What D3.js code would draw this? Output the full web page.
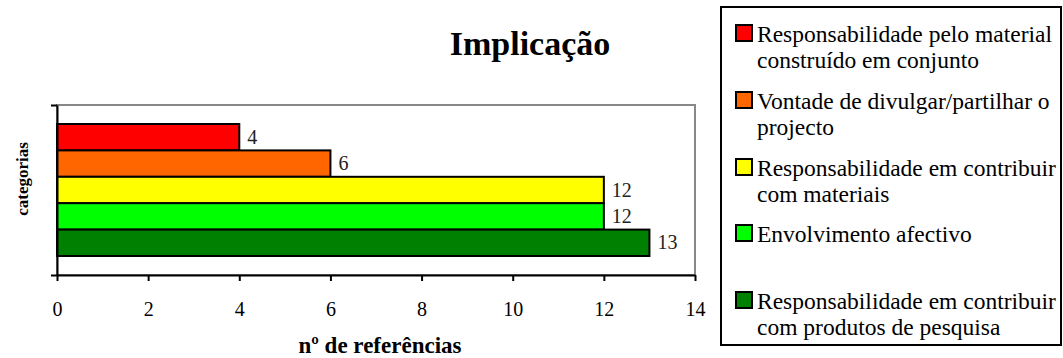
<!DOCTYPE html>
<html>
<head>
<meta charset="utf-8">
<script src="https://cdn.jsdelivr.net/npm/d3@7"></script>
<style>
  body { margin: 0; background: #fff; }
  text { font-family: "Liberation Serif", "Times New Roman", serif; }
</style>
</head>
<body>
<script>
// data
var categories = [
  "Responsabilidade pelo material construído em conjunto",
  "Vontade de divulgar/partilhar o projecto",
  "Responsabilidade em contribuir com materiais",
  "Envolvimento afectivo",
  "Responsabilidade em contribuir com produtos de pesquisa"
];
var values = [4, 6, 12, 12, 13];
var colors = ["#ff0000", "#ff6600", "#ffff00", "#00ff00", "#008000"];
// legend lines (wrapped as in the picture)
var legendLines = [
  ["Responsabilidade pelo material", "construído em conjunto"],
  ["Vontade de divulgar/partilhar o", "projecto"],
  ["Responsabilidade em contribuir", "com materiais"],
  ["Envolvimento afectivo"],
  ["Responsabilidade em contribuir", "com produtos de pesquisa"]
];
var xTicks = [0, 2, 4, 6, 8, 10, 12, 14];

var W = 1063, H = 358;
var plot = {left: 57, right: 695, top: 105, bottom: 275};

var svg = d3.select("body").append("svg")
    .attr("width", W)
    .attr("height", H);

var x = d3.scaleLinear().domain([0, 14]).range([plot.left, plot.right]);
var y = d3.scaleBand().domain(categories)
    .range([plot.top, plot.bottom])
    .paddingInner(0).paddingOuter(0.72);

// plot area border (grey)
svg.append("rect")
    .attr("x", plot.left).attr("y", plot.top)
    .attr("width", plot.right - plot.left)
    .attr("height", plot.bottom - plot.top)
    .attr("fill", "none")
    .attr("stroke", "#888")
    .attr("stroke-width", 2);

// bars
svg.selectAll("rect.bar")
  .data(values)
  .enter().append("rect")
    .attr("class", "bar")
    .attr("x", x(0))
    .attr("y", function(d, i) { return y(categories[i]); })
    .attr("width", function(d) { return x(d) - x(0); })
    .attr("height", y.bandwidth())
    .attr("fill", function(d, i) { return colors[i]; })
    .attr("stroke", "#000")
    .attr("stroke-width", 2);

// value labels
svg.selectAll("text.val")
  .data(values)
  .enter().append("text")
    .attr("class", "val")
    .attr("x", function(d) { return x(d) + 8; })
    .attr("y", function(d, i) { return y(categories[i]) + y.bandwidth() / 2; })
    .attr("dy", "0.33em")
    .attr("font-size", 20)
    .attr("fill", "#222")
    .text(function(d) { return d; });

// x axis
var xAxis = svg.append("g")
    .attr("transform", "translate(0," + plot.bottom + ")")
    .call(d3.axisBottom(x).tickValues(xTicks).tickSize(6).tickSizeOuter(0));
xAxis.select(".domain").attr("stroke", "#000").attr("stroke-width", 2);
xAxis.selectAll(".tick line").attr("stroke", "#000").attr("stroke-width", 2);
xAxis.selectAll(".tick text")
    .attr("y", 41)
    .attr("dy", null)
    .attr("font-size", 20)
    .attr("fill", "#000")
    .style("font-family", "Liberation Serif, Times New Roman, serif");

// y axis (single category line, ticks at ends)
var yEdge = d3.scaleLinear().domain([0, 1]).range([plot.bottom, plot.top]);
var yAxis = svg.append("g")
    .attr("transform", "translate(" + plot.left + ",0)")
    .call(d3.axisLeft(yEdge).tickValues([0, 1]).tickSize(6).tickFormat("").tickSizeOuter(0));
yAxis.select(".domain").attr("stroke", "#000").attr("stroke-width", 2);
yAxis.selectAll(".tick line").attr("stroke", "#000").attr("stroke-width", 2);

// axis titles
svg.append("text")
    .attr("x", 380)
    .attr("y", 353)
    .attr("text-anchor", "middle")
    .attr("font-size", 23)
    .attr("font-weight", "bold")
    .text("nº de referências");

svg.append("text")
    .attr("transform", "translate(28,179) rotate(-90)")
    .attr("text-anchor", "middle")
    .attr("font-size", 17)
    .attr("font-weight", "bold")
    .text("categorias");

// chart title
svg.append("text")
    .attr("x", 530)
    .attr("y", 55)
    .attr("text-anchor", "middle")
    .attr("font-size", 34)
    .attr("font-weight", "bold")
    .text("Implicação");

// legend
var legend = svg.append("g");
legend.append("rect")
    .attr("x", 721).attr("y", 7)
    .attr("width", 340).attr("height", 338)
    .attr("fill", "#fff")
    .attr("stroke", "#000")
    .attr("stroke-width", 2);

var entryY = [33, 100, 167, 233, 300];
var items = legend.selectAll("g.item")
  .data(legendLines)
  .enter().append("g")
    .attr("class", "item")
    .attr("transform", function(d, i) { return "translate(736," + entryY[i] + ")"; });

items.append("rect")
    .attr("x", 0).attr("y", -8)
    .attr("width", 16).attr("height", 16)
    .attr("fill", function(d, i) { return colors[i]; })
    .attr("stroke", "#000")
    .attr("stroke-width", 2);

items.each(function(lines) {
  var t = d3.select(this).append("text")
      .attr("font-size", 23.5);
  lines.forEach(function(l, k) {
    t.append("tspan")
      .attr("x", 21)
      .attr("y", 9 + k * 25.5)
      .text(l);
  });
});
</script>
</body>
</html>
